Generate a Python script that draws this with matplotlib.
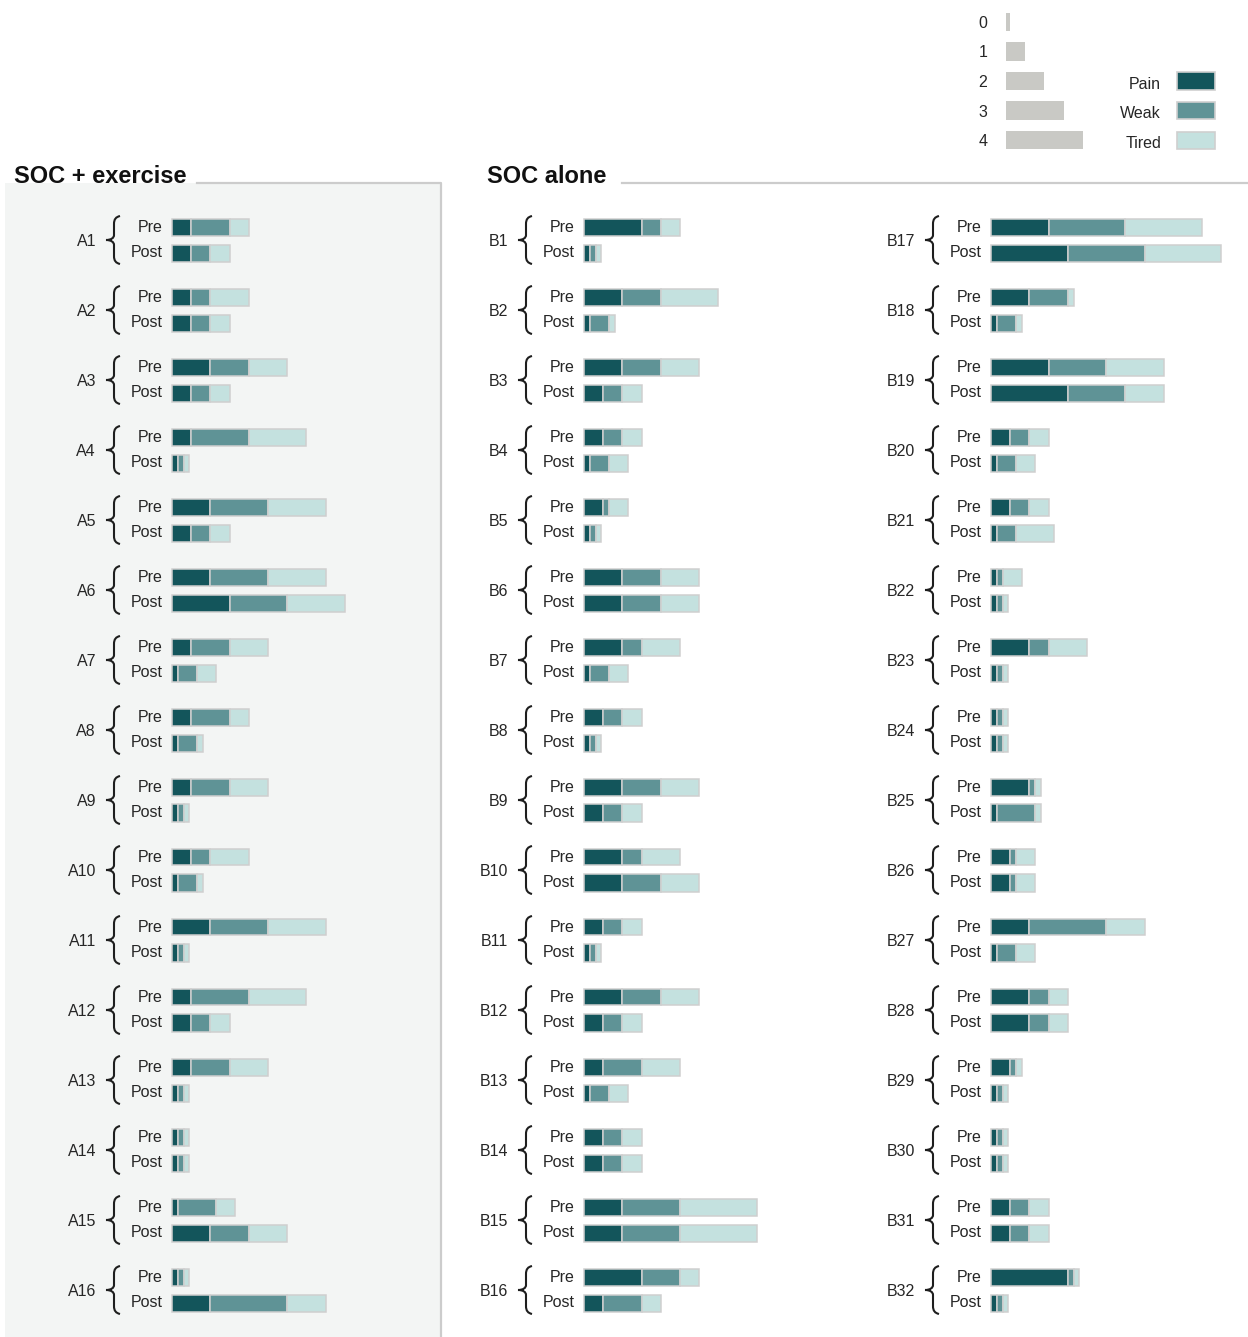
import numpy as np
import matplotlib
matplotlib.use('Agg')
import matplotlib.pyplot as plt
from matplotlib.path import Path
from matplotlib.patches import PathPatch, Rectangle

plt.rcParams['font.family'] = ['Liberation Sans', 'DejaVu Sans']

# ---- data: symptom scores 0-4 (Pain, Weak, Tired), pre and post ----
a_labels = ["A%d" % i for i in range(1, 17)]
a_pre_pain = [1, 1, 2, 1, 2, 2, 1, 1, 1, 1, 2, 1, 1, 0, 0, 0]
a_pre_weak = [2, 1, 2, 3, 3, 3, 2, 2, 2, 1, 3, 3, 2, 0, 2, 0]
a_pre_tired = [1, 2, 2, 3, 3, 3, 2, 1, 2, 2, 3, 3, 2, 0, 1, 0]
a_post_pain = [1, 1, 1, 0, 1, 3, 0, 0, 0, 0, 0, 1, 0, 0, 2, 2]
a_post_weak = [1, 1, 1, 0, 1, 3, 1, 1, 0, 1, 0, 1, 0, 0, 2, 4]
a_post_tired = [1, 1, 1, 0, 1, 3, 1, 0, 0, 0, 0, 1, 0, 0, 2, 2]

b_labels = ["B%d" % i for i in range(1, 33)]
b_pre_pain = [3, 2, 2, 1, 1, 2, 2, 1, 2, 2, 1, 2, 1, 1, 2, 3,
              3, 2, 3, 1, 1, 0, 2, 0, 2, 1, 2, 2, 1, 0, 1, 4]
b_pre_weak = [1, 2, 2, 1, 0, 2, 1, 1, 2, 1, 1, 2, 2, 1, 3, 2,
              4, 2, 3, 1, 1, 0, 1, 0, 0, 0, 4, 1, 0, 0, 1, 0]
b_pre_tired = [1, 3, 2, 1, 1, 2, 2, 1, 2, 2, 1, 2, 2, 1, 4, 1,
               4, 0, 3, 1, 1, 1, 2, 0, 0, 1, 2, 1, 0, 0, 1, 0]
b_post_pain = [0, 0, 1, 0, 0, 2, 0, 0, 1, 2, 0, 1, 0, 1, 2, 1,
               4, 0, 4, 0, 0, 0, 0, 0, 0, 1, 0, 2, 0, 0, 1, 0]
b_post_weak = [0, 1, 1, 1, 0, 2, 1, 0, 1, 2, 0, 1, 1, 1, 3, 2,
               4, 1, 3, 1, 1, 0, 0, 0, 2, 0, 1, 1, 0, 0, 1, 0]
b_post_tired = [0, 0, 1, 1, 0, 2, 1, 0, 1, 2, 0, 1, 1, 1, 4, 1,
                4, 0, 2, 1, 2, 0, 0, 0, 0, 1, 1, 1, 0, 0, 1, 0]

scale_values = [0, 1, 2, 3, 4]
symptoms = ["Pain", "Weak", "Tired"]

# ---- style ----
colors = ["#13555b", "#5f9396", "#c4e1df"]
edge = "#cfcfcf"
txt = "#262626"
W, H = 1248, 1337
UNIT = 19.2      # pixels per score point
ROW = 70.0       # pixels per participant group
ZERO_W = 0.3     # zeros are drawn as a thin sliver
FS = 11.5


def shown(v):
    v = np.asarray(v, dtype=float)
    return np.where(v == 0, ZERO_W, v)


def brace_path(x0, yc):
    # left-pointing curly brace, offsets in pixels converted to data units
    pts = [(-52, -24), (-56, -23), (-58, -21), (-58, -16),
           (-58, -5),
           (-58, -2), (-61, 0), (-66, 0),
           (-61, 0), (-58, 2), (-58, 5),
           (-58, 16),
           (-58, 21), (-56, 23), (-52, 24)]
    codes = [Path.MOVETO, Path.CURVE4, Path.CURVE4, Path.CURVE4,
             Path.LINETO,
             Path.CURVE4, Path.CURVE4, Path.CURVE4,
             Path.CURVE4, Path.CURVE4, Path.CURVE4,
             Path.LINETO,
             Path.CURVE4, Path.CURVE4, Path.CURVE4]
    verts = [(x0 + dx / UNIT, yc + dy / ROW) for dx, dy in pts]
    return Path(verts, codes)


def column(fig, start_px, labels, pre, post):
    left_px, right_px = start_px - 110, start_px + 240
    top_px, bot_px = 205, 1325
    ax = fig.add_axes([left_px / W, 1 - bot_px / H,
                       (right_px - left_px) / W, (bot_px - top_px) / H])
    ax.set_xlim(-110 / UNIT, 240 / UNIT)
    ax.set_ylim(len(labels) - 0.5, -0.5)
    ax.axis('off')
    ax.patch.set_alpha(0)
    n = len(labels)
    idx = np.arange(n)
    off = 13 / ROW
    h = 17 / ROW
    for ys, series in [(idx - off, pre), (idx + off, post)]:
        left = np.zeros(n)
        for vals, c in zip(series, colors):
            w = shown(vals)
            ax.barh(ys, w, left=left, height=h, color=c,
                    edgecolor=edge, linewidth=1.1)
            left += w
    for i, lab in enumerate(labels):
        ax.text(-9 / UNIT, i - off - 1 / ROW, "Pre", ha='right',
                va='center_baseline', fontsize=FS, color=txt)
        ax.text(-9 / UNIT, i + off - 2 / ROW, "Post", ha='right',
                va='center_baseline', fontsize=FS, color=txt)
        ax.text(-76 / UNIT, i, lab, ha='right', va='center_baseline',
                fontsize=FS, color=txt)
        ax.add_patch(PathPatch(brace_path(0, i), facecolor='none',
                               edgecolor='#1e1e1e', linewidth=1.5))
    return ax


fig = plt.figure(figsize=(W / 100, H / 100), dpi=100)

# background, titles and frame lines in pixel space
bg = fig.add_axes([0, 0, 1, 1])
bg.set_xlim(0, W)
bg.set_ylim(H, 0)
bg.axis('off')
bg.add_patch(Rectangle((5, 183), 436, H - 183, facecolor='#f3f5f4',
                       edgecolor='none'))
bg.plot([197, 441, 441], [183, 183, H], color='#cccccc', lw=1.6)
bg.plot([622, W], [183, 183], color='#cccccc', lw=1.6)
bg.text(14, 183, "SOC + exercise", fontsize=17, fontweight='bold',
        color='#111111', va='baseline', ha='left')
bg.text(487, 183, "SOC alone", fontsize=17, fontweight='bold',
        color='#111111', va='baseline', ha='left')

column(fig, 172, a_labels,
       [a_pre_pain, a_pre_weak, a_pre_tired],
       [a_post_pain, a_post_weak, a_post_tired])
column(fig, 584, b_labels[:16],
       [b_pre_pain[:16], b_pre_weak[:16], b_pre_tired[:16]],
       [b_post_pain[:16], b_post_weak[:16], b_post_tired[:16]])
column(fig, 991, b_labels[16:],
       [b_pre_pain[16:], b_pre_weak[16:], b_pre_tired[16:]],
       [b_post_pain[16:], b_post_weak[16:], b_post_tired[16:]])

# legend: scale and colour key
ls = 1006
lg = fig.add_axes([(ls - 40) / W, 1 - 155 / H, 250 / W, 148 / H])
lg.set_xlim(-40 / UNIT, 210 / UNIT)
lg.set_ylim(4.5, -0.5)
lg.axis('off')
lg.patch.set_alpha(0)
scale_w = np.where(np.array(scale_values) == 0, 0.2, scale_values)
lg.barh(np.arange(len(scale_values)), scale_w, height=0.62,
        color='#c9c9c5', edgecolor='none')
for k, v in enumerate(scale_values):
    lg.text(-23 / UNIT, k, str(v), ha='center', va='center_baseline',
            fontsize=FS, color=txt)
key_rows = np.arange(2, 2 + len(symptoms))
lg.barh(key_rows, [2.0] * len(symptoms), left=171 / UNIT, height=0.58,
        color=colors, edgecolor=edge, linewidth=1.2)
for r, s in zip(key_rows, symptoms):
    lg.text(155 / UNIT, r + 0.06, s, ha='right', va='center_baseline',
            fontsize=FS, color=txt)

fig.savefig("out.png", dpi=100)
